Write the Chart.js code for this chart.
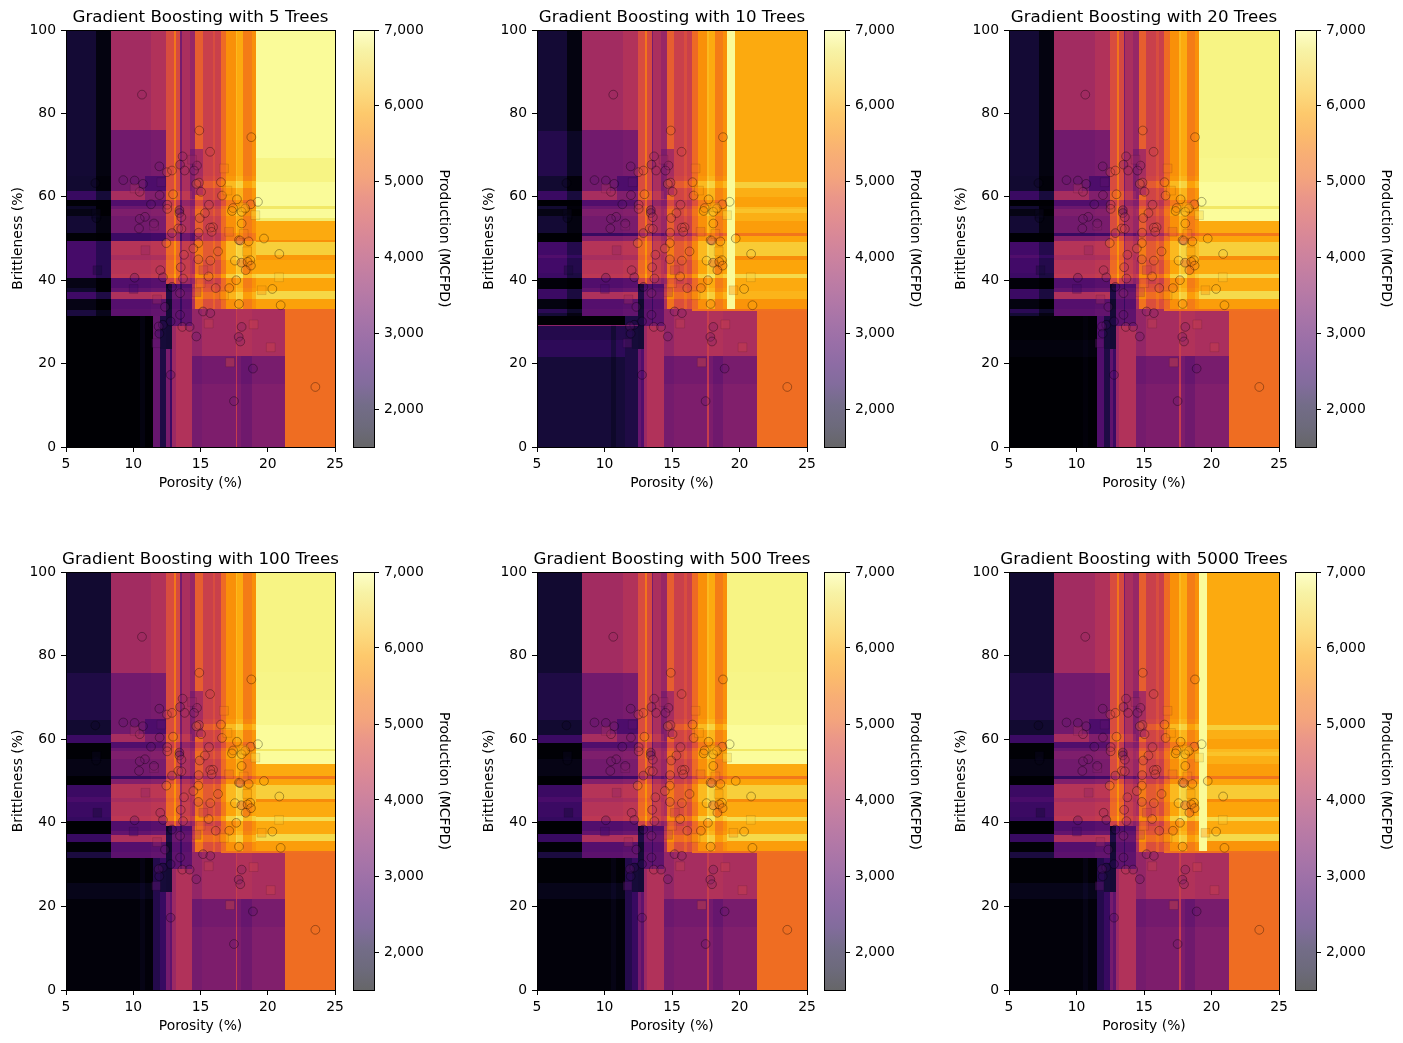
<!DOCTYPE html>
<html>
<head>
<meta charset="utf-8">
<title>Gradient Boosting surfaces</title>
<script src="https://cdn.jsdelivr.net/npm/chart.js@4"></script>
<style>
  html, body { margin: 0; padding: 0; background: #fff; }
  #stage { position: relative; width: 1403px; height: 1043px; overflow: hidden; }
  canvas { position: absolute; }
</style>
</head>
<body>
<div id="stage"></div>
<script>
/* ─── Panels ─────────────────────────────────────────────── */
const treeCounts = [5, 10, 20, 100, 500, 5000];
const colorbarTicks = [2000, 3000, 4000, 5000, 6000, 7000];
const productionRange = [1500, 7000];

/* ─── Wells: [porosity, brittleness, production] ─────────── */
const trainWells = [
  [10.65,84.5,3800],[14.91,75.9,5000],[18.78,74.3,5500],[15.71,70.8,4500],[13.67,69.7,3700],
  [11.94,67.3,3200],[14.74,67.5,3600],[13.48,67.7,3300],[12.51,65.9,4500],[12.88,66.3,4700],
  [13.82,66.3,3900],[14.52,66.3,3600],[9.26,64.0,3000],[10.1,63.9,3000],[10.72,63.1,3100],
  [7.18,63.3,1800],[14.89,63.4,4900],[14.69,63.1,5000],[16.52,63.5,5300],[10.48,61.2,3900],
  [15.04,61.2,4400],[11.96,60.4,3300],[12.96,60.6,5100],[16.6,60.3,5300],[17.71,59.4,5700],
  [19.27,58.8,6900],[18.73,58.2,5400],[11.32,58.2,2900],[12.53,58.1,4300],[12.53,57.1,4400],
  [15.63,58.1,4700],[17.42,57.3,5600],[17.34,56.6,5600],[18.33,57.2,5900],[18.06,56.4,6000],
  [13.43,56.8,2600],[13.43,56.1,3100],[15.33,56.1,4500],[13.58,55.1,4000],[10.87,55.2,3300],
  [10.48,54.7,3300],[14.94,54.9,4400],[7.25,54.9,1700],[11.54,53.6,3100],[18.06,53.6,5700],
  [15.93,52.7,4600],[15.73,52.6,4600],[10.43,52.4,3300],[13.35,52.4,4400],[13.58,52.3,4500],
  [15.83,51.6,4600],[14.86,51.4,4400],[12.88,51.3,3400],[19.72,50.0,5900],[17.86,49.6,4700],
  [17.96,49.5,4700],[18.58,49.3,5500],[12.46,48.9,5400],[14.84,48.9,5100],[16.3,46.9,5000],
  [14.47,47.6,5000],[13.77,46.1,4500],[20.86,46.3,6300],[14.84,45.0,4400],[15.73,44.7,5000],
  [17.56,44.7,6300],[18.04,44.2,4700],[18.7,44.8,5700],[18.5,44.4,5500],[18.75,43.5,5300],
  [18.36,42.4,5000],[13.53,43.1,4300],[12.01,42.4,4000],[12.21,40.7,3500],[13.7,40.4,4300],
  [15.6,40.9,5600],[10.1,40.6,2900],[17.66,40.0,5400],[12.88,38.4,2500],[16.13,38.1,4400],
  [17.14,38.1,5200],[20.34,37.9,6000],[13.48,36.9,3500],[17.86,34.3,5400],[20.96,34.0,5900],
  [12.36,33.6,3100],[15.19,32.5,3600],[15.73,32.1,3500],[13.48,31.7,3000],[12.78,30.1,2400],
  [12.2,29.3,2500],[11.89,28.9,3100],[13.65,28.8,4200],[14.19,28.8,3400],[18.06,28.8,3500],
  [11.94,27.2,2400],[14.69,26.5,3300],[17.84,26.4,3300],[17.96,25.3,3600],[18.9,18.8,2900],
  [12.78,17.3,2800],[23.54,14.4,5200],[17.49,11.0,3300]
];
const testWells = [
  [16.75,66.8,5300],[17.0,61.5,5700],[12.09,63.5,3000],[10.1,62,4000],[19.08,55.6,6400],
  [17.12,51.6,5000],[18.21,51.1,5400],[11.54,53.1,3500],[10.9,47.2,3700],[18.46,46.9,6100],
  [7.33,42.4,2000],[15.21,42.4,4400],[20.84,40.7,6300],[10.03,37.9,2600],[15.01,39.3,5000],
  [19.55,37.6,5700],[14.71,37.1,4300],[16.75,36.4,5700],[11.77,35.4,3800],[15.61,29.6,4400],
  [18.95,29.4,4500],[20.22,23.9,4500],[17.2,20.3,4700],[14.37,68.9,3800],[7.25,56,1800],
  [11.7,24.9,3000],[18.2,57.5,6000]
];

/* ─── Model surface (MCFPD) ──────────────────────────────── */
// Porosity steps that run through the full height of the plot
const columnEdges = [5,7.25,8.32,11.35,12.46,13.0,13.15,13.5,13.62,14.2,14.6,15.15,15.9,16.1,16.5,16.9,17.62,17.72,18.15,18.8,19.1,25];
const columnProduction = [2000,1650,3900,4100,4700,5300,4650,3300,4000,3750,4950,4450,4700,4450,5100,5650,6100,5950,5400,5650,6900];
// [porosity from, to, brittleness from, to, production]
const midBlocks = [
  [8.32,11.35,31.5,75.9,3260],[11.35,12.46,31.5,75.9,3350],[10.9,12.46,59.3,64.9,2750],
  [14.2,14.6,59.5,71.5,3400],[14.6,15.15,60.5,71.5,3950]
];
const coreBlocks = [
  [12.46,12.9,23.5,39.2,2000],[12,12.46,23.5,30.5,2050],[12.9,14.4,29,39.2,3000],[13.5,13.62,29,39.2,2500]
];
const lowCoreColumns = [[12.9,13.15,3800],[13.15,14.4,4100]];
const lowRightBlocks = [
  [14.4,15.13,21.8,33.1,3700],[15.13,17.62,21.8,33.1,3950],[17.62,17.72,21.8,33.1,4400],
  [17.72,18.8,21.8,33.1,4100],[18.8,21.3,21.8,33.1,4000],
  [14.4,15.13,0,21.8,3300],[15.13,17.62,0,21.8,3400],[17.62,17.72,0,21.8,4400],
  [17.72,18,0,21.8,3400],[18,18.8,0,21.8,3220],[18.8,21.3,0,21.8,3450],
  [21.3,25,0,33.1,5150]
];
// Brittleness bands: [from, to, change at 8.3-12.5, at 12.5-14.4, at 14.4-19.1]
const bandRows = [
  [61.3,64.9,0,0,100],[59.3,61.3,700,300,100],[57.9,59.3,-450,-300,-300],[57.1,57.9,-100,0,0],
  [55.3,57.1,150,100,200],[46,49.3,900,400,450],[44.9,46,700,300,450],[41.6,44.9,900,400,250],
  [40.5,41.6,1000,600,700],[38.1,40.5,-450,-200,0],[37.2,38.1,-200,0,100],[35.5,37.2,800,150,400],
  [33.1,35.5,-400,-100,0],[31.5,33.1,-300,0,0]
];
const wideBand51 = [[49.3,51.3,-750,-800,-250]];
const thinBand51 = [[50.5,51.3,-800,-800,-600],[49.3,50.5,200,100,0]];
const sharedShifts = [[15.2,19.1,62.2,63.7,350],[14.4,16.5,33.1,39.2,300],[14.4,21.3,15,21.8,-120]];

// Left edge of the plot, porosity 5-8.3: [from, to, production]
const leftRowsWide = [
  [64.9,100,2000],[61.3,64.9,1950],[59.3,61.3,2450],[57.9,59.3,1520],[57.1,57.9,1800],[55.3,57.1,1650],
  [51.3,55.3,2000],[49.3,51.3,1520],[40.5,49.3,2650],[38.1,40.5,1650],[37.2,38.1,1900],[35.5,37.2,2550],
  [32.9,35.5,1650],[31.5,32.9,2100]
];
const leftRowsThin = [
  [64.9,100,2000],[61.3,64.9,1950],[59.3,61.3,2480],[57.9,59.3,1500],[57,57.9,1950],[55.3,57,1640],
  [51.3,55.3,2000],[49.1,51.3,1510],[46.1,49.1,2600],[45.3,46.1,2800],[41.7,45.3,2600],[40.5,41.7,2520],
  [37.9,40.5,1550],[35.6,37.9,2500],[33,35.6,1600],[32.2,33,2280],[31.5,32.2,2020]
];
const leftRowsDark = [
  [75.8,100,1950],[64.7,75.8,2150],[61,64.7,1950],[59.1,61,2500],[55.2,59.1,1520],[51.2,55.2,1650],
  [49,51.2,1500],[46.1,49,2500],[44.9,46.1,2700],[41.3,44.9,2500],[40.5,41.3,2400],[37.4,40.5,1500],
  [35.4,37.4,2450],[32.9,35.4,1520],[31.5,32.9,2100]
];
const lowLeftRowsBlack = [[0,31.5,1500]];
const lowLeftRowsNavy = [[29.2,31.5,1500],[25.7,29.2,2200],[21.7,25.7,2300],[0,21.7,2050]];
const lowLeftRowsFaint20 = [[25.7,31.5,1520],[21.7,25.7,1580],[0,21.7,1500]];
const lowLeftRowsFaint = [[25.7,31.5,1520],[21.7,25.7,1680],[0,21.7,1550]];
// Narrow columns at porosity 11.5, 12, 12.46, 12.7 under the dark corner
const lowStripEdges = [11.5,12,12.46,12.7,12.9];
const lowStrips5 = [3100,2150,3350,2500];
const lowStrips10 = [2150,2150,3100,2800];
const lowStrips20 = [2800,2150,3000,2500];
const lowStripsLate = [2200,2450,3300,3000];

// Right of porosity 19.1, above brittleness 33
const farRowsBright = [
  [69.4,100,6950],[63.5,69.4,6850],[57.7,63.5,6950],[57.1,57.7,6700],[54.9,57.1,6950],[54.3,54.9,6750],
  [49.6,54.3,5950],[49.1,49.6,5650],[46.1,49.1,6350],[44.9,46.1,5750],[41.6,44.9,5900],[40.5,41.6,6500],
  [37.3,40.5,5900],[35.6,37.3,6450],[33.1,35.6,5850]
];
const farRowsSoft = [
  [76,100,6850],[69.4,76,6870],[63.5,69.4,6890],[57.7,63.5,6960],[57.1,57.7,6700],[54.1,57.1,6960],
  [51.3,54.1,5950],[50.5,51.3,5350],[49.1,50.5,5900],[45.7,49.1,6350],[44.9,45.7,5600],[41.4,44.9,5950],
  [40.5,41.4,6550],[37.4,40.5,5950],[35.6,37.4,6500],[33.1,35.6,5800]
];
const farRowsAmber = [
  [63.5,100,5950],[62.2,63.5,6350],[60,62.2,6000],[57.6,60,5850],[57,57.6,6100],[56,57,6200],
  [54.1,56,6000],[51.3,54.1,5800],[50.5,51.3,5300],[49.1,50.5,5900],[45.7,49.1,6300],[44.9,45.7,5600],
  [41.4,44.9,5900],[40.5,41.4,6500],[37.4,40.5,5950],[35.6,37.4,6050],[33.1,35.6,5700]
];

// What changes from panel to panel, in treeCounts order
const leftRowsByPanel = [leftRowsWide, leftRowsThin, leftRowsThin, leftRowsDark, leftRowsDark, leftRowsDark];
const lowLeftByPanel = [lowLeftRowsBlack, lowLeftRowsNavy, lowLeftRowsFaint20, lowLeftRowsFaint, lowLeftRowsFaint, lowLeftRowsFaint];
const lowStripsByPanel = [lowStrips5, lowStrips10, lowStrips20, lowStripsLate, lowStripsLate, lowStripsLate];
const farRowsByPanel = [farRowsBright, farRowsAmber, farRowsSoft, farRowsSoft, farRowsSoft, farRowsAmber];
const band51ByPanel = [wideBand51, thinBand51, thinBand51, thinBand51, thinBand51, thinBand51];
const darkColumnShift = [-400, -400, -400, 0, 0, 0];
const stripe105Shift = [100, -200, 50, 100, 100, 100];
const panelBlocks = [
  [],
  [[5,8.32,64.9,75.8,2200],[19.1,19.7,33.1,100,6950],[5,12.46,28.9,29.2,3600],[16.5,25,32.7,33.2,5200]],
  [[16.5,25,32.7,33.2,5200]],
  [[16.5,25,32.7,33.2,5200]],
  [[16.5,25,32.7,33.2,5200]],
  [[19.7,25,35.6,37.4,6500],[19.1,19.7,33.1,100,6950],[16.5,25,32.7,33.2,5200]]
];
const panelShifts = [[[14.4,15.1,49.3,51.3,-650]], [], [], [], [], []];

/* ─── Colormap ───────────────────────────────────────────── */
const infernoStops = [
  [0,0,4],[11,7,36],[22,11,57],[47,10,91],[66,10,104],[86,15,109],[106,23,110],[127,30,108],
  [147,38,103],[168,46,95],[188,55,84],[206,67,71],[221,81,58],[237,105,37],[243,120,25],[249,142,9],
  [252,165,10],[250,193,39],[246,215,70],[242,234,105],[252,255,164]
];

function infernoRgb(z) {
  const t = Math.min(1, Math.max(0, (z - productionRange[0]) / (productionRange[1] - productionRange[0])));
  const pos = t * (infernoStops.length - 1);
  const i = Math.min(infernoStops.length - 2, Math.floor(pos));
  const f = pos - i;
  return infernoStops[i].map((c, k) => Math.round(c + (infernoStops[i + 1][k] - c) * f));
}

function infernoColor(z, alpha) {
  const [r, g, b] = infernoRgb(z);
  return `rgba(${r},${g},${b},${alpha})`;
}

/* ─── Surface layers per panel ───────────────────────────── */
function buildLayers(p) {
  const sets = [];
  const adds = [];
  columnProduction.forEach((z, i) => sets.push([columnEdges[i], columnEdges[i + 1], 0, 100, z]));
  sets.push(...midBlocks);
  leftRowsByPanel[p].forEach(r => sets.push([5, 8.32, r[0], r[1], r[2]]));
  lowLeftByPanel[p].forEach(r => sets.push([5, 11.5, r[0], r[1], r[2]]));
  lowStripsByPanel[p].forEach((z, i) => sets.push([lowStripEdges[i], lowStripEdges[i + 1], 0, 31.5, z]));
  lowCoreColumns.forEach(c => sets.push([c[0], c[1], 0, 31.5, c[2]]));
  sets.push(...coreBlocks);
  farRowsByPanel[p].forEach(r => sets.push([19.1, 25, r[0], r[1], r[2]]));
  sets.push(...lowRightBlocks);
  sets.push(...panelBlocks[p]);

  bandRows.concat(band51ByPanel[p]).forEach(r => {
    adds.push([8.32, 12.46, r[0], r[1], r[2]]);
    adds.push([12.46, 14.4, r[0], r[1], r[3]]);
    if (r[0] >= 33.1) adds.push([14.4, 19.1, r[0], r[1], r[4]]);
  });
  adds.push(...sharedShifts, ...panelShifts[p]);
  adds.push([7.25, 8.32, 31.5, 100, darkColumnShift[p]]);
  adds.push([10.5, 10.85, 0, 31.5, stripe105Shift[p]]);
  return { sets, adds };
}

function buildCells(p) {
  const { sets, adds } = buildLayers(p);
  const all = sets.concat(adds);
  const xs = [...new Set(all.flatMap(r => [r[0], r[1]]))].sort((a, b) => a - b);
  const ys = [...new Set(all.flatMap(r => [r[2], r[3]]))].sort((a, b) => a - b);
  const cells = [];
  for (let i = 0; i < xs.length - 1; i++) {
    const cx = (xs[i] + xs[i + 1]) / 2;
    for (let j = 0; j < ys.length - 1; j++) {
      const cy = (ys[j] + ys[j + 1]) / 2;
      const hit = r => cx > r[0] && cx < r[1] && cy > r[2] && cy < r[3];
      let z = productionRange[0];
      sets.forEach(r => { if (hit(r)) z = r[4]; });
      adds.forEach(r => { if (hit(r)) z += r[4]; });
      cells.push([xs[i], xs[i + 1], ys[j], ys[j + 1], z]);
    }
  }
  return cells;
}

/* ─── Plugins ────────────────────────────────────────────── */
function surfacePlugin(cells) {
  return {
    id: 'surface',
    beforeDatasetsDraw(chart) {
      const { ctx, scales: { x, y } } = chart;
      ctx.save();
      cells.forEach(c => {
        const x0 = Math.round(x.getPixelForValue(c[0]));
        const x1 = Math.round(x.getPixelForValue(c[1]));
        const y1 = Math.round(y.getPixelForValue(c[2]));
        const y0 = Math.round(y.getPixelForValue(c[3]));
        if (x1 <= x0 || y1 <= y0) return;
        ctx.fillStyle = infernoColor(c[4], 1);
        ctx.fillRect(x0, y0, x1 - x0, y1 - y0);
      });
      ctx.restore();
    }
  };
}

const framePlugin = {
  id: 'frame',
  afterDatasetsDraw(chart) {
    const { ctx, chartArea: a } = chart;
    ctx.save();
    ctx.strokeStyle = '#000';
    ctx.lineWidth = 1;
    ctx.strokeRect(Math.round(a.left) + 0.5, Math.round(a.top) + 0.5, Math.round(a.width), Math.round(a.height));
    ctx.restore();
  }
};

/* ─── Chart setup ────────────────────────────────────────── */
const FONT = '"DejaVu Sans", sans-serif';
const tickFont = { family: FONT, size: 13.9 };
const labelFont = { family: FONT, size: 13.9, lineHeight: '16px' };
const tickMarks = { display: true, drawOnChartArea: false, drawTicks: true, tickLength: 5, color: '#000', lineWidth: 1 };
const plotLefts = [66, 537, 1009];
const plotWidths = [269, 270, 270];
const plotTops = [30, 572];
const plotHeights = [417, 418];
const barLefts = [353, 824, 1295];
const stage = document.getElementById('stage');

function addCanvas(left, top, width, height) {
  const canvas = document.createElement('canvas');
  canvas.width = width;
  canvas.height = height;
  canvas.style.left = left + 'px';
  canvas.style.top = top + 'px';
  canvas.style.width = width + 'px';
  canvas.style.height = height + 'px';
  stage.appendChild(canvas);
  return canvas;
}

const asPoints = rows => rows.map(r => ({ x: r[0], y: r[1], z: r[2] }));

function drawPanel(p) {
  const col = p % 3;
  const row = Math.floor(p / 3);
  const canvas = addCanvas(plotLefts[col] - 66, plotTops[row] - 30, plotWidths[col] + 132, plotHeights[row] + 80);
  new Chart(canvas, {
    type: 'scatter',
    data: {
      datasets: [
        {
          label: 'Test',
          data: asPoints(testWells),
          pointStyle: 'rect',
          pointRadius: 6.2,
          borderWidth: 1,
          borderColor: 'rgba(0,0,0,0.1)',
          backgroundColor: c => infernoColor(c.raw.z, 0.4)
        },
        {
          label: 'Train',
          data: asPoints(trainWells),
          pointStyle: 'circle',
          pointRadius: 4.4,
          borderWidth: 1,
          borderColor: 'rgba(0,0,0,0.33)',
          backgroundColor: c => infernoColor(c.raw.z, 0.3)
        }
      ]
    },
    options: {
      responsive: false,
      animation: false,
      devicePixelRatio: 1,
      events: [],
      layout: { autoPadding: false, padding: 0 },
      plugins: {
        legend: { display: false },
        tooltip: { enabled: false },
        title: {
          display: true,
          text: `Gradient Boosting with ${treeCounts[p]} Trees`,
          color: '#000',
          font: { family: FONT, size: 16.67, weight: 'normal', lineHeight: '20px' },
          padding: { top: 8, bottom: 2 }
        }
      },
      scales: {
        x: {
          type: 'linear',
          min: 5,
          max: 25,
          grid: tickMarks,
          border: { display: false },
          ticks: { stepSize: 5, color: '#000', font: tickFont, padding: 4, maxRotation: 0 },
          title: { display: true, text: 'Porosity (%)', color: '#000', font: labelFont, padding: { top: 0, bottom: 6 } },
          afterFit(scale) { scale.height = 50; }
        },
        y: {
          type: 'linear',
          min: 0,
          max: 100,
          grid: tickMarks,
          border: { display: false },
          ticks: { stepSize: 20, color: '#000', font: tickFont, padding: 5 },
          title: { display: true, text: 'Brittleness (%)', color: '#000', font: labelFont, padding: { top: 10, bottom: 0 } },
          afterFit(scale) { scale.width = 66; }
        },
        // empty axis on the right so the title centres over the plot
        spacer: {
          type: 'linear',
          position: 'right',
          grid: { display: false },
          border: { display: false },
          ticks: { display: false },
          afterFit(scale) { scale.width = 66; }
        }
      }
    },
    plugins: [surfacePlugin(buildCells(p)), framePlugin]
  });
}

function colorbarFill(context) {
  const area = context.chart.chartArea;
  if (!area) return 'rgba(0,0,0,0.6)';
  const g = context.chart.ctx.createLinearGradient(0, area.bottom, 0, area.top);
  infernoStops.forEach((c, i) => {
    g.addColorStop(i / (infernoStops.length - 1), `rgba(${c[0]},${c[1]},${c[2]},0.6)`);
  });
  return g;
}

function drawColorbar(p) {
  const col = p % 3;
  const row = Math.floor(p / 3);
  const canvas = addCanvas(barLefts[col] - 10, plotTops[row] - 20, 151, plotHeights[row] + 40);
  new Chart(canvas, {
    type: 'bar',
    data: {
      labels: ['Production'],
      datasets: [{ data: [[productionRange[0] - 60, productionRange[1]]], backgroundColor: colorbarFill, barPercentage: 1, categoryPercentage: 1, borderWidth: 0 }]
    },
    options: {
      responsive: false,
      animation: false,
      devicePixelRatio: 1,
      events: [],
      layout: { autoPadding: false, padding: { left: 10, right: 0, top: 20, bottom: 20 } },
      plugins: { legend: { display: false }, tooltip: { enabled: false } },
      scales: {
        x: { display: false },
        y: {
          position: 'right',
          min: productionRange[0],
          max: productionRange[1],
          grid: tickMarks,
          border: { display: false },
          afterBuildTicks(scale) { scale.ticks = colorbarTicks.map(v => ({ value: v })); },
          ticks: { color: '#000', font: tickFont, padding: 5, callback: v => v.toLocaleString('en-US') },
          title: { display: true, text: 'Production (MCFPD)', color: '#000', font: labelFont, padding: { top: 42, bottom: 0 } },
          afterFit(scale) { scale.width = 120; }
        }
      }
    },
    plugins: [framePlugin]
  });
}

/* ─── Init ───────────────────────────────────────────────── */
treeCounts.forEach((n, p) => {
  drawPanel(p);
  drawColorbar(p);
});
</script>
</body>
</html>
